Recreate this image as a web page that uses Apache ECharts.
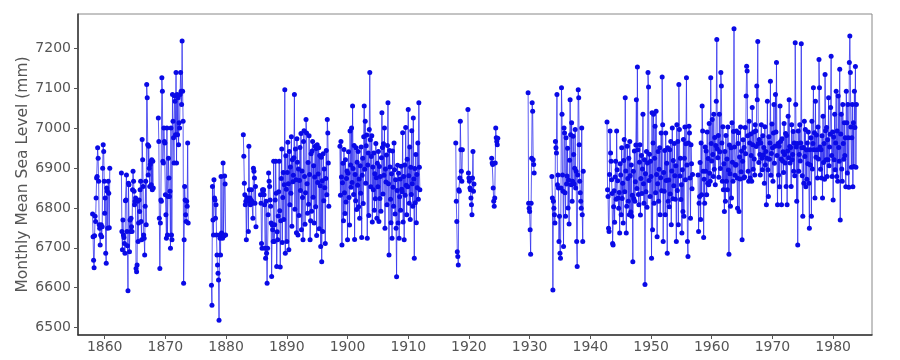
<!DOCTYPE html>
<html>
<head>
<meta charset="utf-8">
<script src="https://cdn.jsdelivr.net/npm/echarts@6/dist/echarts.min.js"></script>
<style>html,body{margin:0;padding:0;background:#fff}#c{width:900px;height:360px}</style>
</head>
<body>
<div id="c"></div>
<script>
// Monthly mean sea level (mm); each segment: start year, start month (0-based), values
const s1858 = [6785,6728,6669,6650,6730,6779,6766,6825,6875,6879,6951,6925,
  6867,6758,6749,6707,6732,6758,6728,6753,6900,6959,6942,6867,
  6787,6825,6686,6661,6850,6842,6749,6867,6837,6750,6900];
const s1862 = [6888,6741,6695,6770,6732,6726,6711,6686,
  6818,6820,6883,6741,6705,6592,
  6862,6858,6690,6770,6741,6774,6753,
  6741,6846,6892,6867,6842,6808,6817,6825,
  6648,6640,6657,6817,6716,6762,6820,6791,
  6846,6867,6766,6720,6972,6921,6854,
  6732,6724,6682,6804,6867,6758,
  7110,7077,6959,6883,6955,6900,6854,
  6909,6917,6858,6921,6846,6917,6850];
const s1868 = [7026,6967,6774,6648,6762,6820,
  6817,7127,7093,6917,6913,7001,
  6967,6963,6833,6783,6724,7001,
  6732,6829,6925,6875,6829,6842,
  6699,7001,6732,6720,7085,7018,
  6976,6913,7081,7068,6984,7140,
  6913,7085,6984,7077,6959,7014,7001,
  7085,7140,7093,7060,7219,
  7093,7018,6611,6720,6854,6820,6783,6766,6817,6804,6963,6762];
const s1877 = [6606,6556,6854,6770,6732,
  6871,6825,6820,6774,6808,6732,
  6682,6657,6636,6619,6518,6732,
  6724,6682,6879,6737,6732,6724,
  6913,6732,6730,6880,6860,6732];
const s1882 = [6984,6930,6862,6833,6808,
  6817,6720,6825,6825,6817,6741,6955,
  6846,6825,6808,6820,6846,6817,6812,
  6774,6900,6892,6875,6812,6854,6753];
const s1885 = [6833,6812,6711,6699,6846,6842,
  6846,6833,6808,6699,6674,6817,
  6686,6611,6699,6783,6888,6867,
  6854,6820,6804,6762,6628,6758,
  6745,6716,6917,6716,6758,6820,
  6917,6837,6653,6740,6720,6780,
  6841,6917,6793,6652,6768,6874,
  6948,6713,6826,6889,6771,6858,
  7097,6686,6931,6847,6716,6889,
  6965,6861,6695,6942,6808,6903,
  6837,6979,6754,6921,6866,6882,
  6926,7085,6797,6948,6871,6738,
  6974,6915,6732,6898,6781,6869,
  6952,6844,6987,6745,6893,6826,
  6720,6967,6994,6879,6759,6838,
  7022,6988,6861,6787,6914,6809,
  6981,6884,6720,6768,6936,6792,
  6943,6967,6827,6906,6762,6878,
  6955,6803,6949,6731,6959,6864,
  6885,6951,6748,6932,6856,6703,
  6927,6665,6868,6741,6936,6818,
  6898,6851,6711,6874,6944,6833,
  7022,6988,6913,6804];
const s1898 = [6955,6832,6967,
  6878,6707,6863,6912,6768,6947,6838,6786,6921,6815,6874,6893,
  6720,6887,6941,6826,6757,6993,6908,6852,7001,6864,7056,6899,
  6834,6957,6721,6884,6818,6951,6796,6915,6857,6942,6803,6873,
  6774,6906,6837,6953,6726,6882,6925,6811,6979,7056,6897,7018,
  6862,6956,6983,6724,6908,6938,6781,6997,7140,6971,6853,6929,
  6981,6765,6903,6846,6938,6794,6886,6823,6962,6876,6774,6912,
  6853,6942,6766,6904,6824,6879,6792,6926,7039,6952,6835,6961,
  6882,7001,6749,6898,6865,6933,6808,6957,7064,6861,6682,6944,
  6903,6822,6763,6886,6724,6943,6852,6804,6963,6896,6785,6871,
  6749,6627,6844,6907,6762,6887,6724,6828,6873,6794,6905,6847,
  6841,6989,6765,6879,6720,6908,6832,7002,6857,6783,6922,6853,
  7047,6881,6812,6953,6771,6902,6834,6994,6861,6804,7026,6873,
  6674,6899,6813,6934,6763,6884,6851,6963,6822,7064,6902,6846];
const s1917 = [6963,6817,6766,6690,6678,6657,6846,6842,6875,7018,6946,6892,6867,6946];
const s1919 = [7047,6888,6875,6867,6850,6846,6825,6808,6783,6875,6942,6842,6860];
const s1923 = [6925,6913,6909,6850,6817,6804,6825,6913,7001,6976,6967,6959,6975];
const s1929 = [7089,6812,6799,6791,6745,6684,6812,6925,7064,7043,6921,6909,6888];
const s1933 = [6879,6825,6594,6817,6799,6783,
  6762,6967,6951,6938,7085,6858,
  6883,6850,6716,6779,6686,6674,
  6850,7102,7035,6883,6842,6703,
  7001,6988,6838,6779,6976,6860,
  6880,6950,6800,6870,6760,6920,
  7072,6984,6858,7014,6817,6867,
  6980,6934,6860,6900,6997,6850,
  6892,6716,6653,6883,7097,7077,
  6959,6867,6838,6817,6799,7001,
  6783,6716,6892];
const s1942 = [7016,6846,6829,
  6749,6741,6884,6993,6938,6917,6871,6836,6711,6707,6803,6843,
  6764,6878,6917,6822,6993,6896,6868,6825,6799,6839,6737,6911,
  6883,6783,6951,6824,6862,6762,6919,6972,6841,7077,6893,6737,
  6804,6955,6874,6817,6925,6783,6967,6881,6790,6908,6779,6832,
  6665,6892,6823,6943,6817,6866,6958,7072,6849,7154,6946,6834,
  6808,6915,6959,6782,6874,6932,6836,6898,7035,6861,6812,6921,
  6608,6886,6841,6942,6802,6913,7140,7104,6869,6935,6829,6917,
  6879,6674,7039,6745,6963,7035,6812,6925,7005,6838,7043,6884,
  6728,6861,6942,6817,6897,6951,6783,6876,6988,6843,7129,7009,
  6716,6889,6842,6944,6783,6988,6869,6912,6686,6951,6817,6870,
  6803,6946,6835,6967,6758,6893,7001,6823,6919,6856,6962,6881,
  6822,6906,6716,7009,6844,6967,6758,7110,6997,6880,6925,6821,
  6858,6737,6896,6791,6972,6779,6925,7003,6871,6961,7127,6908,
  6716,6678,6963,7005,6988,6875,6774,6959,6911,6848,6884];
const s1957 = [6883,6741,6812,
  6829,6914,6771,6963,6833,7056,6993,6892,6726,6872,6812,6953,
  6892,6943,6833,6991,6862,6924,6858,7012,6887,6867,7127,6962,
  6918,7022,6934,6879,7035,6897,6977,6858,6957,7068,7223,6948,
  6926,6982,6877,7035,6941,6899,7140,7106,6963,6867,7004,6846,
  6911,6791,6942,6817,6982,6867,6923,6846,7003,6895,6684,6958,
  6886,6804,6951,6825,7014,6915,6867,6992,7250,6953,6882,6907,
  6909,6993,6875,6799,6962,6989,6791,6928,6873,7003,6891,6943,
  6720,6917,6971,6875,6952,6878,7002,6936,7081,7156,7144,6981,
  6892,6867,7018,6963,6875,6986,6932,6867,7052,6959,6897,6991,
  6923,6883,7009,6993,6954,7106,7072,7218,6962,6914,6972,6934,
  6883,6963,7009,6925,6896,6981,6933,6952,6862,7004,6908,6942,
  6808,6925,7068,6896,6829,6979,6922,6963,7118,6882,6937,7011,
  6951,6867,6988,7060,6912,6955,7085,6991,7165,6932,6808,6962,
  6883,6955,6853,7056,6967,6923,6808,6974,6918,6941,6889,7012,
  6934,6913,6987,6854,6982,6808,6943,7030,6926,7072,6954,6913,
  6952,6854,7009,6921,6934,6992,6892,6963,6881,7215,7060,6953,
  6817,6962,6707,6993,6892,6934,7009,6918,6963,7212,6951,6881,
  6779,6952,6862,7018,6929,6997,6853,6946,6872,6963,6911,6991,
  6862,6749,6946,6908,6976,6779,7018,6898,6962,7102,6946,6989,
  6825,7068,6927,6983,6946,6875,7003,6923,7173,7102,6953,6897,
  6946,6875,6981,6825,7030,6914,6962,6872,7135,6994,6921,7002,
  6879,6971,6921,7077,6906,6953,6985,7052,7181,6932,6879,6991,
  6820,6978,6921,7035,6896,6963,7093,6879,6993,6867,7081,6952,
  6917,7148,6770,6986,7035,6898,6867,7060,6962,6922,7014,6932,
  6976,6853,7093,7014,6888,7060,6976,6852,7165,7232,7140,7003,
  6902,6976,7060,6853,7014,6904,7093,7002,7155,6902,7060];

const segments = [
  [1858, 0, s1858], [1862, 9, s1862], [1868, 10, s1868], [1877, 7, s1877],
  [1882, 10, s1882], [1885, 8, s1885], [1898, 9, s1898], [1917, 10, s1917],
  [1919, 10, s1919], [1923, 9, s1923], [1929, 9, s1929], [1933, 8, s1933],
  [1942, 9, s1942], [1957, 9, s1957]
];
const xTicks = [1860,1870,1880,1890,1900,1910,1920,1930,1940,1950,1960,1970,1980];
const yTicks = [6500,6600,6700,6800,6900,7000,7100,7200];

const data = [];
segments.forEach(([yr, mo, vals], si) => {
  if (si > 0) data.push([yr + mo / 12 - 0.05, '-']);
  vals.forEach((v, i) => data.push([yr + (mo + i) / 12, v]));
});

const font = 'DejaVu Sans';
const chart = echarts.init(document.getElementById('c'), null, {renderer: 'canvas'});
chart.setOption({
  animation: false,
  grid: {left: 78, right: 28, top: 14, bottom: 25, show: true, borderColor: '#888', borderWidth: 1, containLabel: false},
  xAxis: {
    type: 'value', min: 1855.6, max: 1986.4,
    splitLine: {show: false},
    axisLine: {show: true, lineStyle: {color: '#333', width: 1.5}},
    axisTick: {show: true, length: 4, lineStyle: {color: '#555'}, customValues: xTicks},
    axisLabel: {color: '#555', fontSize: 14, fontFamily: font, margin: 5, customValues: xTicks,
      formatter: v => String(v)}
  },
  yAxis: {
    type: 'value', min: 6481, max: 7287,
    name: 'Monthly Mean Sea Level (mm)', nameLocation: 'middle', nameGap: 47,
    nameMoveOverlap: false,
    nameTextStyle: {color: '#555', fontSize: 15.5, fontFamily: font},
    splitLine: {show: false},
    axisLine: {show: true, lineStyle: {color: '#333', width: 1.5}},
    axisTick: {show: true, length: 4, lineStyle: {color: '#555'}, customValues: yTicks},
    axisLabel: {color: '#555', fontSize: 14, fontFamily: font, margin: 7, customValues: yTicks,
      formatter: v => String(v)}
  },
  series: [{
    type: 'line', data: data, connectNulls: false,
    symbol: 'circle', symbolSize: 5, showAllSymbol: true,
    itemStyle: {color: '#0a0ae6'},
    lineStyle: {color: '#2a2aee', width: 1, opacity: 0.75}
  }]
});
</script>
</body>
</html>
